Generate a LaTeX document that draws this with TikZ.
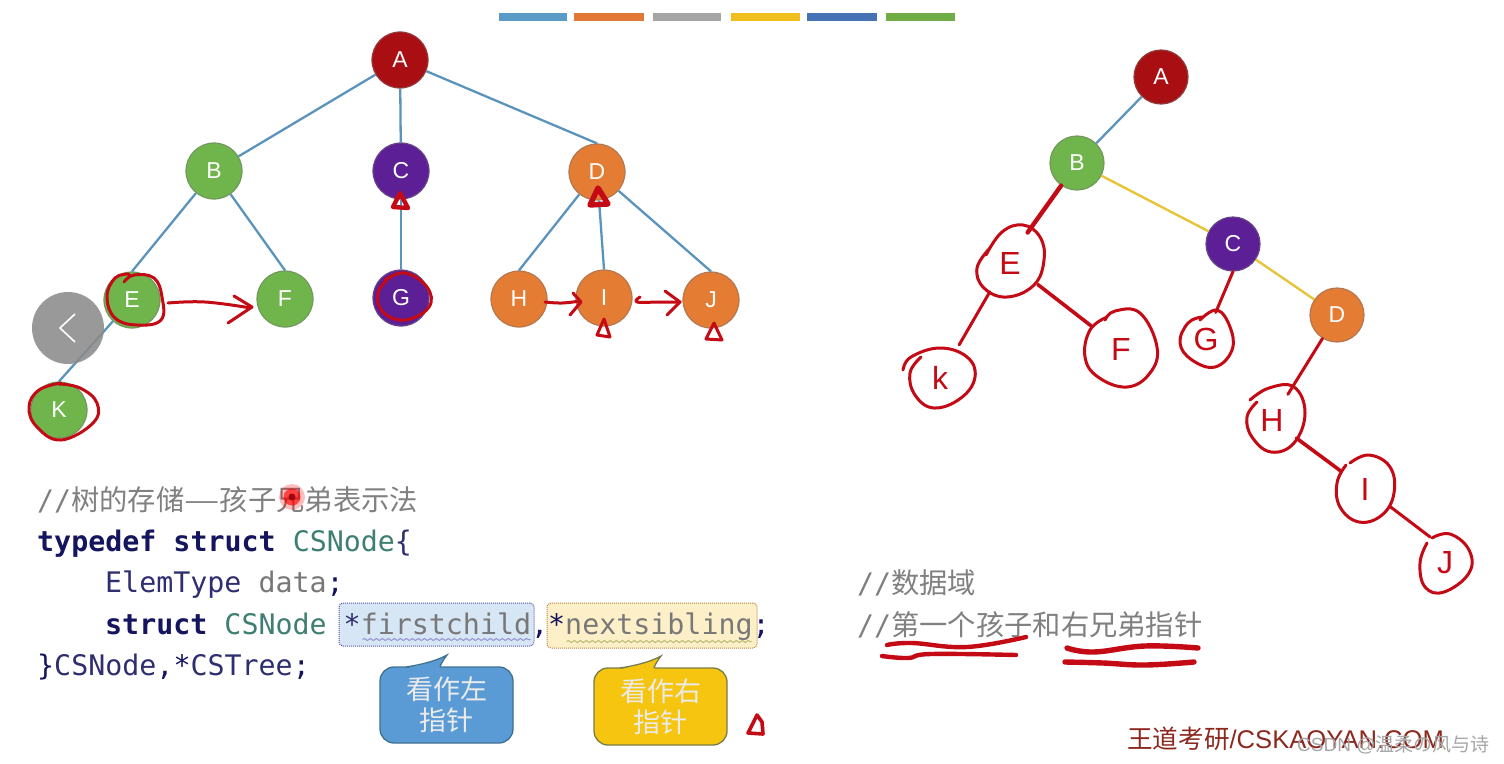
\documentclass[tikz,border=0pt]{standalone}
\usepackage{fontspec}
\setmainfont{Liberation Sans}
\setmonofont{DejaVu Sans Mono}
\newfontfamily\cjk{Noto Sans CJK SC}
\usetikzlibrary{decorations.pathmorphing}
\definecolor{ink}{HTML}{C40A14}
\definecolor{treeline}{HTML}{5A94BC}
\definecolor{yline}{HTML}{E8C43A}
\definecolor{cgreen}{HTML}{70B54C}
\definecolor{cpurple}{HTML}{5C1F96}
\definecolor{corange}{HTML}{E47C34}
\definecolor{cred}{HTML}{A80E12}
\definecolor{kwblue}{HTML}{14145F}
\definecolor{typeteal}{HTML}{3F7F72}
\definecolor{typenavy}{HTML}{2E2E70}
\definecolor{cmtgray}{HTML}{808080}
\definecolor{codegray}{HTML}{787878}
\definecolor{callblue}{HTML}{5B9BD5}
\definecolor{callblueline}{HTML}{41708F}
\definecolor{callyellow}{HTML}{F5C50F}
\definecolor{callyellowline}{HTML}{787D46}
\tikzset{
  treenode/.style={circle,minimum size=56pt,inner sep=0pt,draw=#1!70!black!80,line width=1.2pt,text=white,font=\fontsize{23}{23}\selectfont},
  gnode/.style={treenode=cgreen,fill=cgreen},
  pnode/.style={treenode=cpurple,fill=cpurple},
  onode/.style={treenode=corange,fill=corange},
  anode/.style={treenode=cred,fill=cred},
  edge/.style={draw=treeline,line width=2.3pt},
  yedge/.style={draw=yline,line width=2.4pt},
  inkline/.style={draw=ink,line width=3pt,line cap=round,line join=round},
  inkthick/.style={draw=ink,line width=4.4pt,line cap=round,line join=round},
  inkfat/.style={draw=ink,line width=5.4pt,line cap=round,line join=round},
  hand/.style={circle,inner sep=0pt,minimum size=#1,text=ink,font=\fontsize{32}{32}\selectfont},
  code/.style={anchor=base west,inner sep=0pt,font=\ttfamily\fontsize{28.3}{30}\selectfont},
  cmt/.style={anchor=base west,inner sep=0pt,text=cmtgray,font=\ttfamily\fontsize{28.3}{30}\selectfont},
  bar/.style={minimum height=8pt,minimum width=#1,inner sep=0pt,anchor=west},
  callbody/.style={rounded corners=14pt,line width=1.3pt,inner sep=0pt,minimum width=133pt,minimum height=76pt,align=center,text=white!92!black,font=\cjk\fontsize{27}{31}\selectfont},
  hlbox/.style={rounded corners=4pt,densely dotted,line width=1pt},
  wavy/.style={decorate,decoration={snake,amplitude=1pt,segment length=6pt},line width=1pt},
}
\begin{document}
\begin{tikzpicture}[x=1pt,y=-1pt]
\path[use as bounding box,fill=white] (0,0) rectangle (1504,763);
% top colour bars
\node[bar=68pt,fill={rgb,255:red,91;green,155;blue,200}] (b1) at (499,17) {};
\node[bar=70pt,fill={rgb,255:red,225;green,120;blue,55}] (b2) at (574,17) {};
\node[bar=68pt,fill={rgb,255:red,165;green,165;blue,165}] (b3) at (653,17) {};
\node[bar=69pt,fill={rgb,255:red,240;green,190;blue,30}] (b4) at (731,17) {};
\node[bar=70pt,fill={rgb,255:red,68;green,114;blue,180}] (b5) at (807,17) {};
\node[bar=69pt,fill={rgb,255:red,112;green,173;blue,71}] (b6) at (886,17) {};
% left tree
\node[anode] (A) at (400,60) {A};
\node[gnode] (B) at (214,171) {B};
\node[pnode] (C) at (401,171) {C};
\node[onode] (D) at (597,172) {D};
\node[gnode] (E) at (132,300) {E};
\node[gnode] (F) at (285,299) {F};
\node[pnode] (G) at (401,298) {G};
\node[onode] (H) at (519,299) {H};
\node[onode] (I) at (604,298) {I};
\node[onode] (J) at (711,300) {J};
\node[gnode] (K) at (59,410) {K};
\draw[edge] (A) -- (B);
\draw[edge] (A) -- (C);
\draw[edge] (A) -- (D.north);
\draw[edge] (B) -- (E.north);
\draw[edge] (B) -- (F.north);
\draw[edge] (C) -- (G);
\draw[edge] (D) -- (H.north);
\draw[edge] (D) -- (I.north);
\draw[edge] (D) -- (J.north);
\draw[edge] (E) -- (K.north);
% back button
\node[circle,minimum size=72pt,inner sep=0pt,fill=black!45,fill opacity=.88] (back) at (68,328) {};
\draw[white,line width=1.6pt] (75,314) -- (60,328) -- (75,342);
% left tree ink
\draw[inkline] plot[smooth,tension=.7] coordinates {(124,282)(134,275)(154,278)(162,297)(161,320)(137,325)(115,318)(107,297)(115,278)(129,274)};
\draw[inkline] plot[smooth,tension=.7] coordinates {(168,303)(205,302)(251,308)};
\draw[inkline] (234,296) -- (252,307) -- (228,323);
\draw[inkline] plot[smooth,tension=.7] coordinates {(59,384)(80,388)(97,403)(93,423)(61,440)(37,427)(29,407)(39,390)(61,383)};
\draw[inkline] plot[smooth,tension=.7] coordinates {(385,280)(405,273)(427,287)(429,307)(405,320)(383,312)(378,293)(390,277)};
\draw[inkthick] (400,193) -- (393,207) -- (408,208) -- cycle;
\draw[inkfat] (598,188) -- (590,205) -- (608,204) -- cycle;
\draw[inkline] plot[smooth,tension=.7] coordinates {(545,302)(562,303)(580,301)};
\draw[inkline] (573,293) -- (581,302) -- (570,315);
\draw[inkline] plot[smooth,tension=.7] coordinates {(640,297)(637,302)(660,302)(680,302)};
\draw[inkline] (665,291) -- (680,302) -- (667,315);
\draw[inkline] (604,319) -- (597,335) -- (610,337) -- cycle;
\draw[inkline] (714,323) -- (706,339) -- (722,340) -- cycle;
\draw[inkthick,line width=3.6pt] (757,715) -- (748,733) -- (763,734) -- (762,722) -- cycle;
% code block
\node[hlbox,fill={rgb,255:red,214;green,230;blue,245},draw=gray!70!blue,minimum width=195pt,minimum height=43pt,inner sep=0pt] (fc) at (436.5,624.5) {};
\node[hlbox,fill={rgb,255:red,253;green,240;blue,200},draw=orange!50!gray,minimum width=210pt,minimum height=45pt,inner sep=0pt] (ns) at (652,625.5) {};
\draw[wavy,draw=gray!60!blue!60] (fc.south west)++(24,-7) -- ++(168,0);
\draw[wavy,draw=gray!60!yellow] (ns.south west)++(20,-7) -- ++(185,0);
\node[cmt] (c1) at (37,510) {//{\cjk 树的存储\scalebox{1.4}[1]{—}孩子兄弟表示法}};
\node[code] (l1) at (37,551) {\textcolor{kwblue}{\bfseries typedef struct} \textcolor{typeteal}{CSNode}\textcolor{typenavy}{\{}};
\node[code] (l2) at (105,592) {\textcolor{typenavy}{ElemType} \textcolor{codegray}{data}\textcolor{kwblue}{;}};
\node[code] (l3) at (105,634) {\textcolor{kwblue}{\bfseries struct} \textcolor{typeteal}{CSNode} \textcolor{typenavy}{*}\textcolor{codegray}{firstchild}\textcolor{kwblue}{,*}\textcolor{codegray}{nextsibling}\textcolor{kwblue}{;}};
\node[code] (l4) at (37,675) {\textcolor{kwblue}{\}}\textcolor{typenavy}{CSNode}\textcolor{kwblue}{,*}\textcolor{typenavy}{CSTree}\textcolor{kwblue}{;}};
% laser spot
\node[circle,fill=red,opacity=.25,minimum size=26pt,inner sep=0pt] (s1) at (292,497) {};
\node[circle,fill=red,opacity=.65,minimum size=17pt,inner sep=0pt] (s2) at (292,497) {};
\node[circle,fill=ink!80!black,minimum size=7pt,inner sep=0pt] (s3) at (292,497) {};
% callouts
\node[callbody,fill=callblue,draw=callblueline] (t1) at (446.5,705) {看作左\\指针};
\node[callbody,fill=callyellow,draw=callyellowline,minimum height=77pt] (t2) at (660.5,706.5) {看作右\\指针};
\fill[callblue] (406,668.5) .. controls (425,664) and (438,660) .. (447,655) .. controls (443,660) and (441,664) .. (440,668.5) -- cycle;
\draw[callblueline,line width=1.3pt] (406,667) .. controls (425,664) and (438,660) .. (447,655) .. controls (443,660) and (441,664) .. (440,667);
\fill[callyellow] (620,669.5) .. controls (639,665) and (652,661) .. (661,656) .. controls (657,661) and (655,665) .. (654,669.5) -- cycle;
\draw[callyellowline,line width=1.3pt] (620,668) .. controls (639,665) and (652,661) .. (661,656) .. controls (657,661) and (655,665) .. (654,668);
% right tree
\node[anode,minimum size=54pt] (A2) at (1161,77) {A};
\node[gnode,minimum size=54pt] (B2) at (1077,163) {B};
\node[pnode,minimum size=54pt] (C2) at (1233,244) {C};
\node[onode,minimum size=54pt] (D2) at (1337,315) {D};
\node[hand=70pt] (rE) at (1010,263) {E};
\node[hand=76pt] (rK) at (940,378) {k};
\node[hand=76pt] (rF) at (1121,349) {F};
\node[hand=56pt] (rG) at (1206,339) {G};
\node[hand=60pt] (rH) at (1272,420) {H};
\node[hand=60pt] (rI) at (1365,489) {I};
\node[hand=60pt] (rJ) at (1445,563) {J};
\draw[edge] (A2) -- (B2);
\draw[yedge] (B2) -- (C2);
\draw[yedge] (C2) -- (D2);
\draw[inkfat,line width=4.4pt] (B2.-125) -- (rE.60);
\draw[inkline] (rE.-125) -- (rK.60);
\draw[inkthick,line width=3.6pt] (rE) -- (rF);
\draw[inkline] (C2.-90) -- (rG.70);
\draw[inkline] (D2) -- (rH);
\draw[inkthick,line width=3.6pt] (rH) -- (rI);
\draw[inkline] (rI.-35) -- (rJ.120);
\draw[inkline] plot[smooth,tension=.7] coordinates {(986,255)(1002,232)(1023,225)(1040,237)(1044,260)(1034,285)(1007,297)(984,288)(977,268)(990,248)};
\draw[inkline] plot[smooth,tension=.7] coordinates {(903,370)(911,357)(940,348)(967,357)(975,377)(961,398)(934,408)(915,395)(910,373)(921,357)};
\draw[inkline] plot[smooth,tension=.7] coordinates {(1105,320)(1115,311)(1140,313)(1157,347)(1150,373)(1127,387)(1098,377)(1085,357)(1090,330)(1107,317)};
\draw[inkline] plot[smooth,tension=.7] coordinates {(1200,320)(1217,310)(1230,327)(1232,350)(1215,367)(1192,360)(1180,343)(1188,323)(1202,317)};
\draw[inkline] plot[smooth,tension=.7] coordinates {(1250,400)(1269,388)(1294,387)(1305,413)(1294,443)(1271,452)(1252,437)(1247,417)(1257,402)};
\draw[inkline] plot[smooth,tension=.7] coordinates {(1350,463)(1369,455)(1390,467)(1394,493)(1382,515)(1359,522)(1340,507)(1337,483)(1346,465)};
\draw[inkline] plot[smooth,tension=.7] coordinates {(1432,538)(1450,534)(1469,550)(1469,573)(1444,592)(1425,587)(1420,563)(1427,543)};
% right comments
\node[cmt] (c2) at (857,593) {//{\cjk 数据域}};
\node[cmt] (c3) at (857,635) {//{\cjk 第一个孩子和右兄弟指针}};
\draw[inkthick] plot[smooth,tension=.7] coordinates {(887,645)(912,643)(967,647)(1026,637)};
\draw[inkthick] plot[smooth,tension=.7] coordinates {(882,656)(908,658)(931,654)(1016,655)};
\draw[inkfat] plot[smooth,tension=.7] coordinates {(1067,648)(1094,652)(1145,646)(1198,648)};
\draw[inkfat] plot[smooth,tension=.7] coordinates {(1065,662)(1103,663)(1145,665)(1194,662)};
% watermarks
\node[anchor=base west,inner sep=0pt,text={rgb,255:red,140;green,40;blue,30},font=\fontsize{25.6}{26}\selectfont] (w1) at (1127,748) {{\cjk 王道考研}/CSKAOYAN.COM};
\node[anchor=base west,inner sep=0pt,text=gray!70,font=\fontsize{19}{19}\selectfont] (w2) at (1297,751) {CSDN @{\cjk 温柔の风与诗}};
\end{tikzpicture}
\end{document}
